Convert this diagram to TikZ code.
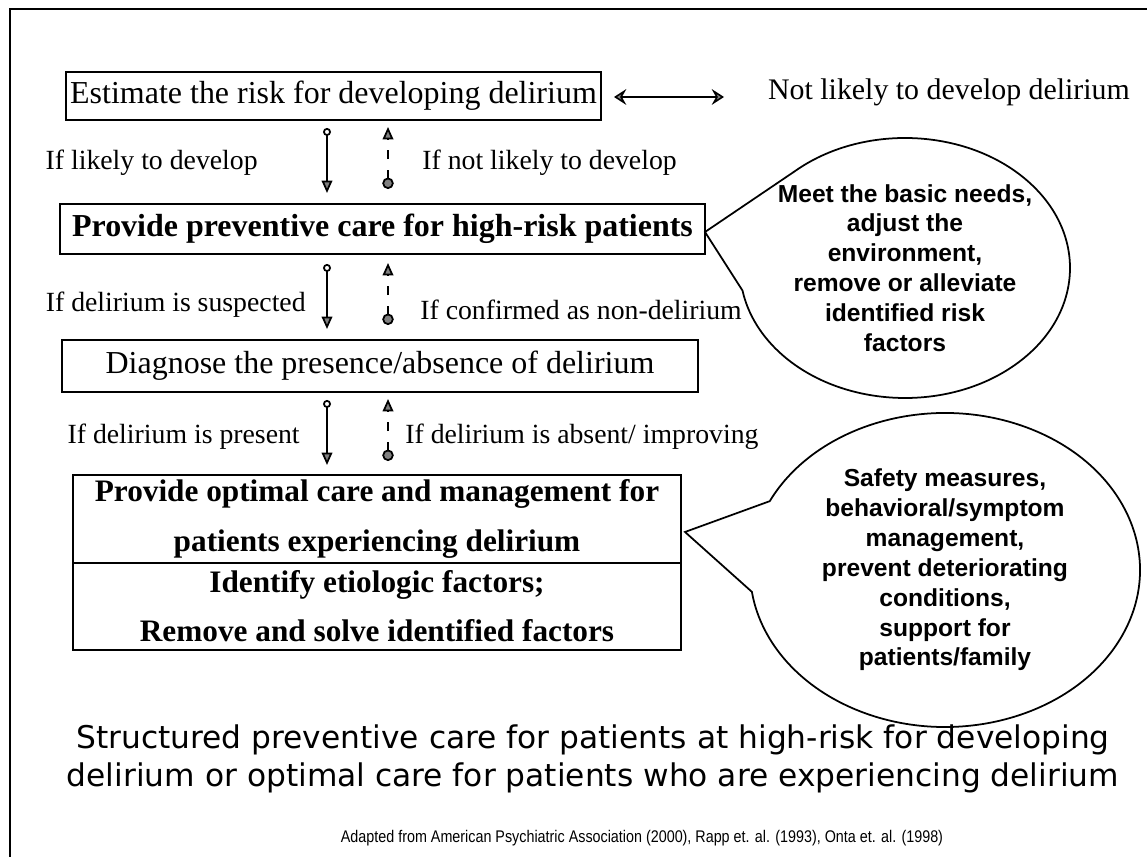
\documentclass[tikz,border=0pt]{standalone}
\usepackage{fontspec}
\setmainfont{Liberation Serif}
\newfontfamily\bubblefont{Liberation Sans}
\newfontfamily\capfont{DejaVu Sans}
\newfontfamily\citefont[FakeStretch=0.85]{Liberation Sans}
\usetikzlibrary{arrows.meta}

\begin{document}
\begin{tikzpicture}[x=0.02cm,y=-0.02cm,
    stepbox/.style={draw,line width=1.1pt,inner sep=0pt,font=\fontsize{18.2}{21}\selectfont},
    lbl/.style={inner sep=0pt,font=\fontsize{15.8}{19}\selectfont},
    downarr/.style={line width=1pt,{Circle[open,length=4.5pt,width=4.5pt]}-{Triangle[length=7pt,width=6pt,fill=gray]}},
    uparr/.style={line width=1pt,dash pattern=on 5pt off 6pt,{Circle[length=6.5pt,width=6.5pt,fill=gray]}-{Triangle[length=7pt,width=6pt,fill=gray]}},
    bubble/.style={line width=1pt},
    bubtxt/.style={align=center,inner sep=0pt,font=\bubblefont\bfseries\fontsize{14}{17}\selectfont}]
    \useasboundingbox (0,0) rectangle (1147,857);
    \draw[line width=1.2pt] (10,857) -- (10,9) -- (1147,9);
    %
    \node[stepbox,minimum width=10.7cm,minimum height=0.96cm] (estimate) at (333.5,96)
        {Estimate the risk for developing delirium};
    \node[font=\fontsize{17}{20}\selectfont,inner sep=0pt] (notlikely) at (949,92)
        {Not likely to develop delirium};
    \coordinate (dl) at (614,97); \coordinate (dr) at (724,97);
    \draw[line width=0.9pt,{Stealth[length=7pt,width=9pt,inset=2.5pt,fill=gray]}-{Stealth[length=7pt,width=9pt,inset=2.5pt,fill=gray]}] (dl) -- (dr);
    %
    \node[stepbox,minimum width=12.9cm,minimum height=1cm,font=\bfseries\fontsize{18.2}{21}\selectfont] (prevent) at (382.5,229)
        {Provide preventive care for high-risk patients};
    \node[stepbox,minimum width=12.72cm,minimum height=1.04cm] (diagnose) at (380,366)
        {Diagnose the presence/absence of delirium};
    \node[stepbox,minimum width=12.16cm,minimum height=1.76cm,align=center,font=\bfseries\fontsize{17.8}{28}\selectfont] (optimal) at (377,519)
        {Provide optimal care and management for\\patients experiencing delirium};
    \node[stepbox,minimum width=12.16cm,minimum height=1.74cm,align=center,font=\bfseries\fontsize{17.8}{28}\selectfont] (etiology) at (377,606.5)
        {Identify etiologic factors;\\Remove and solve identified factors};
    %
    \coordinate (d1a) at (327,128); \coordinate (d1b) at (327,193);
    \coordinate (u1a) at (388,189); \coordinate (u1b) at (388,127);
    \draw[downarr] (d1a) -- (d1b); \draw[uparr] (u1a) -- (u1b);
    \node[lbl,anchor=east] (likely) at (258,163) {If likely to develop};
    \node[lbl,anchor=west] (notdev) at (422,163) {If not likely to develop};
    %
    \coordinate (d2a) at (327,264); \coordinate (d2b) at (327,329);
    \coordinate (u2a) at (388,325); \coordinate (u2b) at (388,263);
    \draw[downarr] (d2a) -- (d2b); \draw[uparr] (u2a) -- (u2b);
    \node[lbl,anchor=east] (suspect) at (306,305) {If delirium is suspected};
    \node[lbl,anchor=west] (confirm) at (420,310) {If confirmed as non-delirium};
    %
    \coordinate (d3a) at (327,400); \coordinate (d3b) at (327,465);
    \coordinate (u3a) at (388,461); \coordinate (u3b) at (388,399);
    \draw[downarr] (d3a) -- (d3b); \draw[uparr] (u3a) -- (u3b);
    \node[lbl,anchor=east] (present) at (300,437) {If delirium is present};
    \node[lbl,anchor=west] (absent) at (405,437) {If delirium is absent/ improving};
    %
    \coordinate (c1) at (905,268); \coordinate (tip1) at (705,232);
    \draw[bubble] (tip1) -- ([shift={(228:165 and 130)}]c1)
        arc[start angle=228,end angle=530,x radius=165,y radius=130] -- cycle;
    \node[bubtxt] (needs) at (c1) {Meet the basic needs,\\adjust the\\environment,\\remove or alleviate\\identified risk\\factors};
    %
    \coordinate (c2) at (945,570); \coordinate (tip2) at (685,532);
    \draw[bubble] (tip2) -- ([shift={(206:195 and 157)}]c2)
        arc[start angle=206,end angle=532,x radius=195,y radius=157] -- cycle;
    \node[bubtxt] (safety) at (c2) {Safety measures,\\behavioral/symptom\\management,\\prevent deteriorating\\conditions,\\support for\\patients/family};
    %
    \node[align=center,inner sep=0pt,font=\capfont\fontsize{17.8}{21.6}\selectfont] (caption) at (593,759)
        {Structured preventive care for patients at high-risk for developing\\delirium or optimal care for patients who are experiencing delirium};
    \node[inner sep=0pt,font=\citefont\fontsize{9.6}{11}\selectfont] (source) at (642,838)
        {Adapted from American Psychiatric Association (2000), Rapp et. al. (1993), Onta et. al. (1998)};
\end{tikzpicture}
\end{document}
